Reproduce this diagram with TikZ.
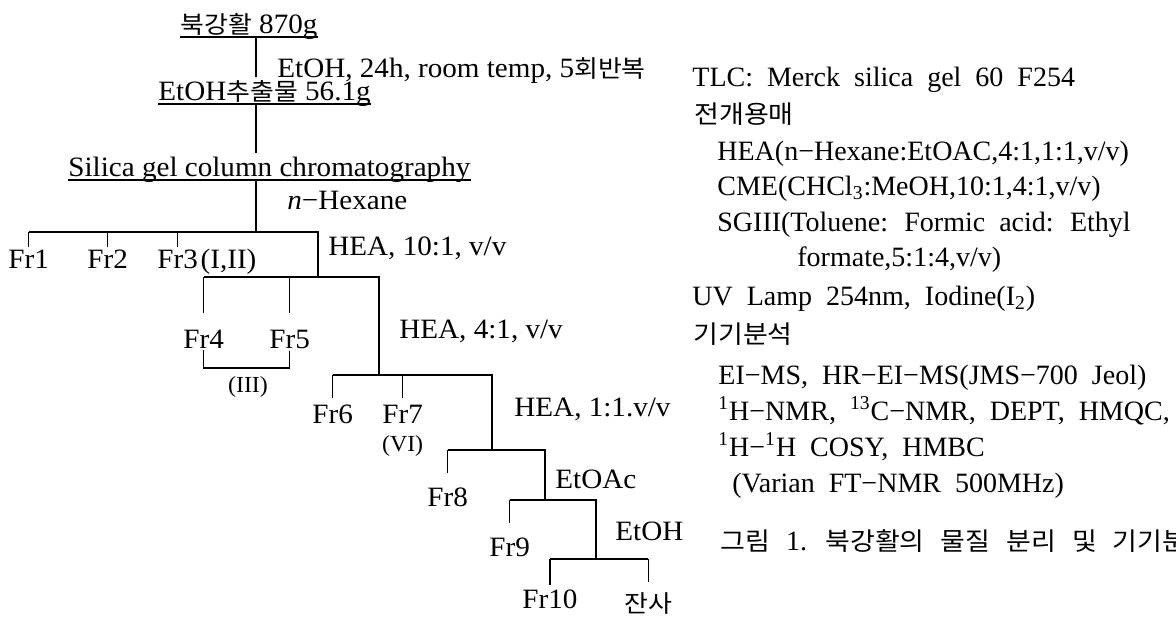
\documentclass[tikz,border=0pt]{standalone}
\usepackage{fontspec}
\setmainfont{Liberation Serif}
\newfontfamily\krfont[FakeStretch=1.08]{Noto Sans CJK KR}
\newfontfamily\trfont[FakeStretch=1.04]{Liberation Serif}
\newcommand{\kr}[2][12]{{\krfont\fontsize{#1}{#1}\selectfont #2}}
\newcommand{\rtfont}{\fontsize{14}{17}\selectfont\spaceskip=7pt\relax}
\newcommand{\capfont}{\fontsize{14}{17}\selectfont\spaceskip=8pt\relax}
\usetikzlibrary{positioning}
\tikzset{
  tr/.style={font=\trfont\fontsize{14}{17}\selectfont, inner sep=0pt, anchor=base west},
  sm/.style={font=\trfont\fontsize{11.5}{13}\selectfont, inner sep=0pt},
  rt/.style={font=\rtfont, inner sep=0pt, anchor=base west},
  ln/.style={line width=0.6pt},
}

\begin{document}
\begin{tikzpicture}[x=0.5pt, y=-0.5pt]
      \useasboundingbox (0,0) rectangle (1176,617);

      % 추출 단계
      \node[tr] (raw) at (180,33) {\kr{북강활} 870g};
      \node[tr] (ext) at (158,100) {EtOH\kr{추출물} 56.1g};
      \node[tr] (col) at (68,176) {Silica gel column chromatography};
      \foreach \n in {raw,ext,col}
        \draw[ln] ([yshift=-2pt]\n.base west) coordinate (\n-ul) -- ([yshift=-2pt]\n.base east);

      % 용출 조건
      \node[tr] (s1) at (277,77) {EtOH, 24h, room temp, 5\kr{회반복}};
      \node[tr] (s2) at (287,209) {\textit{n}−Hexane};
      \node[tr] (s3) at (328,255) {HEA, 10:1, v/v};
      \node[tr] (s4) at (399,338) {HEA, 4:1, v/v};
      \node[tr] (s5) at (514,416) {HEA, 1:1.v/v};
      \node[tr] (s6) at (555,488) {EtOAc};
      \node[tr] (s7) at (615,540) {EtOH};

      % 분획
      \node[tr] (f1) at (8,268) {Fr1};
      \node[tr] (f2) at (87,268) {Fr2};
      \node[tr] (f3) at (157,268) {Fr3};
      \node[tr, base right=1pt of f3] (f3c) {(I,II)};
      \node[tr] (f4) at (183,348) {Fr4};
      \node[tr] (f5) at (269,348) {Fr5};
      \node[sm] (g3) at (248,387) {(III)};
      \node[tr] (f6) at (312,423) {Fr6};
      \node[tr] (f7) at (382,423) {Fr7};
      \node[sm, below=6pt of f7] (f7c) {(VI)};
      \node[tr] (f8) at (427,506) {Fr8};
      \node[tr] (f9) at (489,556) {Fr9};
      \node[tr] (f10) at (522,608) {Fr10};
      \node[tr] (res) at (624,612) {\kr{잔사}};

      % 가지 연결점
      \coordinate (h1) at (256,232);
      \coordinate (h2) at (318,277);
      \coordinate (h3) at (379,375);
      \coordinate (h4) at (492,450);
      \coordinate (h5) at (545,500);
      \coordinate (h6) at (596,559);
      \coordinate (br) at (0,368);

      \draw[ln, shorten >=1.5pt] (raw-ul -| h1) -- (ext.north -| h1);
      \draw[ln, shorten >=1.5pt] (ext-ul -| h1) -- (col.north -| h1);
      \draw[ln] (col-ul -| h1) -- (h1);

      \draw[ln] (h1 -| f1.north) -- (h1 -| h2) -- (h2);
      \draw[ln] (h2 -| f4.north) -- (h2 -| h3) -- (h3);
      \draw[ln] (h3 -| f6.north) -- (h3 -| h4) -- (h4);
      \draw[ln] (h4 -| f8.north) -- (h4 -| h5) -- (h5);
      \draw[ln] (h5 -| f9.north) -- (h5 -| h6) -- (h6);
      \draw[ln] (h6 -| f10.north) -- (h6 -| res.north);

      \foreach \n/\h/\g in {f1/h1/1pt,f2/h1/1pt,f3/h1/1pt,f4/h2/8pt,f5/h2/8pt,f6/h3/3pt,f7/h3/3pt,f8/h4/7pt,f9/h5/7pt,f10/h6/2pt,res/h6/5pt}
        \draw[ln] (\h -| \n.north) -- ([yshift=\g]\n.north);

      % Fr4, Fr5 묶음
      \draw[ln] ([yshift=-1pt]f4.south) -- (f4.south |- br) -- (f5.south |- br) -- ([yshift=-1pt]f5.south);

      % 실험 조건
      \node[rt] (tlc) at (692,86) {TLC: Merck silica gel 60 F254};
      \node[rt] (solv) at (694,123) {\kr[12.5]{전개용매}};
      \node[rt] (hea) at (717,160) {HEA(n−Hexane:EtOAC,4:1,1:1,v/v)};
      \node[rt] (cme) at (717,195) {CME(CHCl\textsubscript{3}:MeOH,10:1,4:1,v/v)};
      \node[rt] (sg) at (717,231) {SGIII(Toluene: Formic acid: Ethyl};
      \node[rt] (sgb) at (797,266) {formate,5:1:4,v/v)};
      \node[rt] (uv) at (692,305) {UV Lamp 254nm, Iodine(I\textsubscript{2})};
      \node[rt] (inst) at (693,343) {\kr[12.5]{기기분석}};
      \node[rt] (ms) at (718,384) {EI−MS, HR−EI−MS(JMS−700 Jeol)};
      \node[rt] (nmr) at (718,420) {\textsuperscript{1}H−NMR, \textsuperscript{13}C−NMR, DEPT, HMQC,};
      \node[rt] (cosy) at (718,456) {\textsuperscript{1}H−\textsuperscript{1}H COSY, HMBC};
      \node[rt] (var) at (732,492) {(Varian FT−NMR 500MHz)};
      \node[rt, font=\capfont] (cap) at (720,550) {\kr[12.5]{그림} 1. \kr[12.5]{북강활의 물질 분리 및 기기분석}};
\end{tikzpicture}
\end{document}
